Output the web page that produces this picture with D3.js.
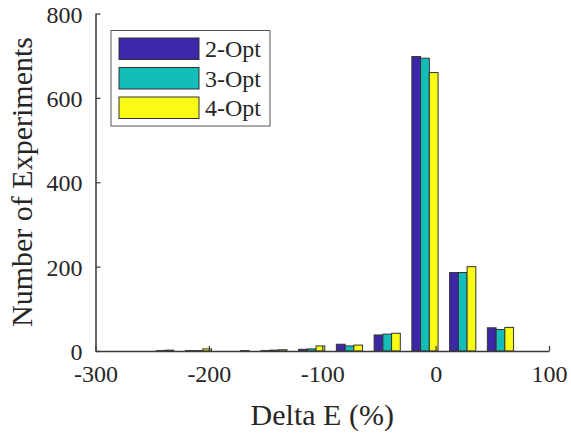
<!DOCTYPE html>
<html><head><meta charset="utf-8">
<script src="https://cdn.jsdelivr.net/npm/d3@7"></script>
<style>body{margin:0;background:#fff}svg{display:block}text{font-family:"Liberation Serif","Times New Roman",serif;fill:#262626}</style>
</head><body><svg id="c" width="571" height="435"></svg>
<script>
const binCenters = [-242.5, -209.2, -175.9, -142.6, -109.3, -76, -42.7, -9.4, 23.9, 57.2];
const series = ["2-Opt", "3-Opt", "4-Opt"];
const opt2 = [0, 1, 0, 1, 4, 16, 38, 698, 186, 55];
const opt3 = [1, 1, 0, 2, 5, 12, 40, 694, 186, 51];
const opt4 = [2, 5, 1, 3, 12, 14, 42, 660, 200, 56];
const xTicks = [-300, -200, -100, 0, 100];
const yTicks = [0, 200, 400, 600, 800];
const colors = ["#3e26a8", "#13bdb8", "#f9fb15"];

const svg = d3.select("#c");
const x = d3.scaleLinear().domain([-300, 100]).range([95.5, 549]);
const y = d3.scaleLinear().domain([0, 800]).range([351, 13.5]);
const barW = 7.7; // data units
const values = [opt2, opt3, opt4];
const axisCol = "#3a3a3a";

// bars
values.forEach((vals, s) => {
  svg.append("g").selectAll("rect").data(binCenters).join("rect")
    .attr("x", (c) => x(c + (s - 1.5) * barW))
    .attr("width", x(barW) - x(0))
    .attr("y", (c, i) => y(vals[i]))
    .attr("height", (c, i) => y(0) - y(vals[i]))
    .attr("fill", colors[s])
    .attr("stroke", "#333").attr("stroke-width", 1);
});

// axes
const fmt = d => String(d);
const ax = svg.append("g").attr("transform", `translate(0,${y(0)})`)
  .call(d3.axisBottom(x).tickValues(xTicks).tickFormat(fmt).tickSize(-5).tickPadding(14).tickSizeOuter(0));
const ay = svg.append("g").attr("transform", `translate(${x(-300)},0)`)
  .call(d3.axisLeft(y).tickValues(yTicks).tickFormat(fmt).tickSize(-5).tickPadding(13).tickSizeOuter(0));
[ax, ay].forEach(g => {
  g.select(".domain").attr("stroke", axisCol).attr("stroke-width", 1.5);
  g.selectAll(".tick line").attr("stroke", axisCol).attr("stroke-width", 1.2);
  g.selectAll(".tick text").attr("font-size", 24).attr("font-family", "Liberation Serif").attr("fill", "#262626");
});
ax.selectAll(".tick text").attr("dy", "0.71em");
ay.selectAll(".tick text").attr("dy", "0.36em");

// axis labels
svg.append("text").attr("x", x(-100)).attr("y", 425).attr("text-anchor", "middle")
  .attr("font-size", 30).text("Delta E (%)");
svg.append("text").attr("transform", "translate(32,182) rotate(-90)").attr("text-anchor", "middle")
  .attr("font-size", 30).text("Number of Experiments");

// legend
const lg = svg.append("g");
lg.append("rect").attr("x", 111).attr("y", 30.5).attr("width", 159).attr("height", 95.5)
  .attr("fill", "#fff").attr("stroke", "#555").attr("stroke-width", 1);
series.forEach((name, i) => {
  const yy = 38 + i * 29.5;
  lg.append("rect").attr("x", 119).attr("y", yy).attr("width", 80).attr("height", 21.5)
    .attr("fill", colors[i]).attr("stroke", "#333").attr("stroke-width", 1);
  lg.append("text").attr("x", 205).attr("y", yy + 19).attr("font-size", 24).text(name);
});
</script></body></html>
